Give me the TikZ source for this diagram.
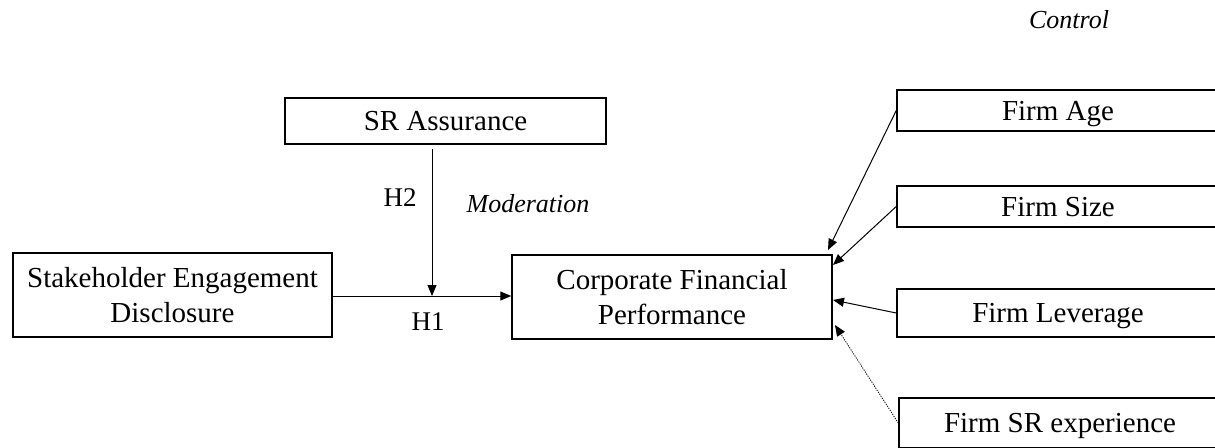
\documentclass[tikz,border=0pt]{standalone}
\usepackage{fontspec}
\setmainfont{Liberation Serif}
\usetikzlibrary{arrows.meta}
\begin{document}
\begin{tikzpicture}[x=1pt,y=-1pt,
  box/.style={draw,line width=1.5pt,inner sep=0pt,align=center,font=\fontsize{29}{35}\selectfont},
  onebox/.style={box,text depth=0pt},
  arr/.style={line width=1pt,-{Triangle[length=11pt,width=9pt]}},
  hlab/.style={inner sep=0pt,font=\fontsize{27}{30}\selectfont},
  ilab/.style={inner sep=0pt,font=\fontsize{26}{30}\selectfont\itshape}]
\useasboundingbox (0,0) rectangle (1215,447);
\clip (0,0) rectangle (1215,447);
\node[onebox,minimum width=321pt,minimum height=46pt] (sr) at (445.5,121) {SR Assurance};
\node[box,minimum width=319pt,minimum height=84pt] (sed) at (172.5,295) {Stakeholder Engagement\\Disclosure};
\node[box,minimum width=320pt,minimum height=84pt] (cfp) at (672,297) {Corporate Financial\\Performance};
\node[onebox,minimum width=322pt,minimum height=41pt] (age) at (1058,110.5) {Firm Age};
\node[onebox,minimum width=322pt,minimum height=41pt] (size) at (1058,206.5) {Firm Size};
\node[onebox,minimum width=322pt,minimum height=48pt] (lev) at (1058,313) {Firm Leverage};
\node[onebox,minimum width=322pt,minimum height=50pt] (exp) at (1060,423) {Firm SR experience};
\node[ilab] (ctl) at (1069,20) {Control};
\node[ilab] (modl) at (528,204) {Moderation};
\node[hlab] (h2) at (400,198) {H2};
\node[hlab] (h1) at (428,322) {H1};
\coordinate (m) at (432,296);
\coordinate (c1) at (828,250);
\coordinate (c2) at (833,265);
\coordinate (c3) at (833,300);
\coordinate (c4) at (835,325);
\draw[arr] (sed.east |- m) -- (m -| cfp.west);
\draw[arr] ([yshift=-4pt]m |- sr.south) -- (m);
\draw[arr] (age.west) -- (c1);
\draw[arr] (size.west) -- (c2);
\draw[arr] (lev.west) -- (c3);
\draw[arr,line width=0.8pt,dash pattern=on 1.2pt off 1.2pt] (exp.west) -- (c4);
\end{tikzpicture}
\end{document}
